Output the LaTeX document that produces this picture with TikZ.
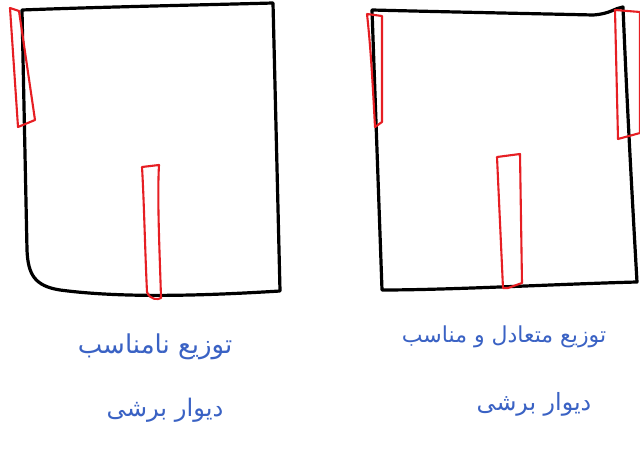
\documentclass[tikz,border=0pt]{standalone}
\usepackage{fontspec}
\newfontfamily\arabicfont[Script=Arabic]{DejaVu Sans}
\TeXXeTstate=1
\definecolor{inkblue}{RGB}{58,98,196}
\definecolor{inkred}{RGB}{230,30,35}
\tikzset{
  plan/.style={line width=3.2pt, black, line join=round, line cap=round},
  wall/.style={line width=2.1pt, inkred, line join=round, line cap=round},
  note/.style={inkblue, font=\arabicfont\fontsize{22}{26}\selectfont, inner sep=0pt}
}
\begin{document}
\begin{tikzpicture}[x=1pt,y=-1pt]
\useasboundingbox[fill=white] (0,0) rectangle (640,454);
% left plan
\draw[plan] (22,10) .. controls (100,7) and (200,5) .. (273,3)
  -- (280,291) .. controls (200,296) and (120,298) .. (60,290)
  .. controls (35,286) and (28,275) .. (27,250) -- (22,10);
% left walls
\draw[wall] (10,8) -- (19,11) -- (35,120) -- (18,127) -- cycle;
\draw[wall] (142,167) -- (159,165) .. controls (157,200) and (160,260) .. (161,298)
  .. controls (158,300) and (150,300) .. (147,292) .. controls (145,250) and (144,200) .. (142,167);
% right plan
\draw[plan] (372,10) .. controls (450,12) and (550,14) .. (593,15)
  .. controls (610,14) and (615,8) .. (623,7)
  .. controls (626,80) and (630,160) .. (637,282)
  .. controls (560,284) and (450,290) .. (382,290) -- (372,10);
% right walls
\draw[wall] (367,14) -- (382,16) -- (382,122) -- (375,127) .. controls (373,90) and (371,50) .. (367,14);
\draw[wall] (615,10) -- (640,12) -- (640,133) -- (618,139) -- cycle;
\draw[wall] (497,157) -- (520,154) -- (522,283) -- (508,288) -- (503,288) -- cycle;
% texts
\node[note, scale=1.18] (l1) at (155,347) {\beginR توزیع نامناسب\endR};
\node[note, scale=1.1] (l2) at (165,410) {\beginR دیوار برشی\endR};
\node[note] (r1) at (504,337) {\beginR توزیع متعادل و مناسب\endR};
\node[note, scale=1.08] (r2) at (534,404) {\beginR دیوار برشی\endR};
\end{tikzpicture}
\end{document}
